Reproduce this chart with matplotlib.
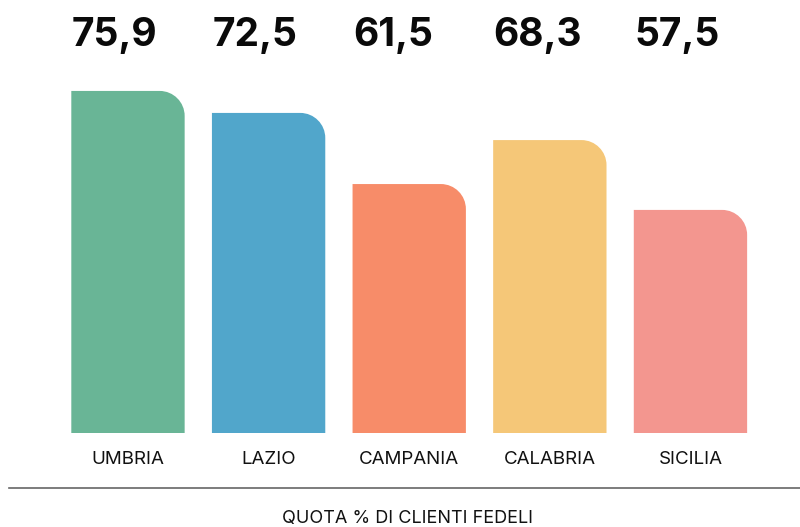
import matplotlib
matplotlib.use("Agg")
import matplotlib.pyplot as plt
from matplotlib.path import Path
from matplotlib.patches import PathPatch
import matplotlib.transforms as mtransforms

categories = ["UMBRIA", "LAZIO", "CAMPANIA", "CALABRIA", "SICILIA"]
values = [75.9, 72.5, 61.5, 68.3, 57.5]
labels = ["75,9", "72,5", "61,5", "68,3", "57,5"]
colors = ["#69b596", "#51a6cb", "#f78c69", "#f5c778", "#f3968f"]
title = "QUOTA % DI CLIENTI FEDELI"

W, H = 800, 527
fig = plt.figure(figsize=(W / 100, H / 100), dpi=100)
plt.rcParams['font.family'] = ['Inter', 'DejaVu Sans']

ax_left, ax_right = 10, 800
ax_bottom, ax_top = 433, 89
ax = fig.add_axes([ax_left / W, 1 - ax_bottom / H, (ax_right - ax_left) / W, (ax_bottom - ax_top) / H])

ymin, ymax = 23.0, 76.2
xmin, xmax = -0.839, 4.779
ax.set_xlim(xmin, xmax)
ax.set_ylim(ymin, ymax)
for s in ax.spines.values():
    s.set_visible(False)
ax.set_yticks([])
ax.set_xticks(range(len(categories)))
ax.set_xticklabels(categories, fontsize=13.5, color="#111111")
ax.tick_params(axis="x", length=0, pad=13)

bw = 0.806
px_per_x = (ax_right - ax_left) / (xmax - xmin)
px_per_y = (ax_bottom - ax_top) / (ymax - ymin)
r_px = 25
rx = r_px / px_per_x
ry = r_px / px_per_y
k = 0.5523

for i, (v, c) in enumerate(zip(values, colors)):
    x0, x1 = i - bw / 2, i + bw / 2
    b = ymin
    verts = [
        (x0, b), (x0, v), (x1 - rx, v),
        (x1 - rx + k * rx, v), (x1, v - ry + k * ry), (x1, v - ry),
        (x1, b), (x0, b),
    ]
    codes = [Path.MOVETO, Path.LINETO, Path.LINETO,
             Path.CURVE4, Path.CURVE4, Path.CURVE4,
             Path.LINETO, Path.CLOSEPOLY]
    ax.add_patch(PathPatch(Path(verts, codes), facecolor=c, edgecolor="none", clip_on=False))

trans = mtransforms.blended_transform_factory(ax.transData, fig.transFigure)
for i, lab in enumerate(labels):
    ax.text(i - bw / 2 + 0.003, 1 - 35 / H, lab, transform=trans, ha="left", va="center",
            fontsize=28, fontweight="bold", color="#0a0a0a")

fig.add_artist(plt.Line2D([9 / W, 1.0], [1 - 487.7 / H, 1 - 487.7 / H],
                          transform=fig.transFigure, color="#666666", lw=1.2))
fig.text(407 / W, 1 - 519 / H, title, ha="center", va="center", fontsize=13, color="#111111")

fig.savefig("out.png", dpi=100)
